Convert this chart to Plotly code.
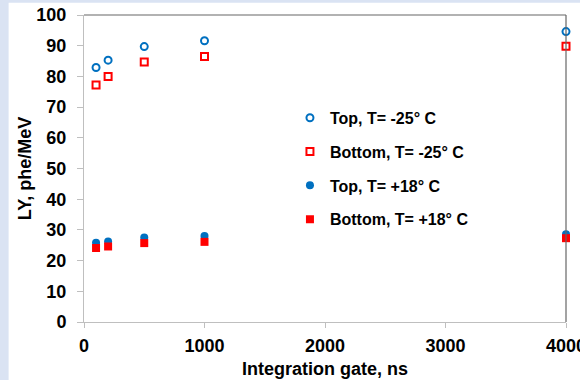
import plotly.graph_objects as go

gate_ns = [100, 200, 500, 1000, 4000]
top_m25 = [82.9, 85.3, 89.7, 91.6, 94.6]
bottom_m25 = [77.2, 80.0, 84.7, 86.5, 89.8]
top_p18 = [25.8, 26.2, 27.5, 28.0, 28.6]
bottom_p18 = [24.1, 24.6, 25.7, 26.1, 27.3]

names = ["Top, T= -25° C", "Bottom, T= -25° C", "Top, T= +18° C", "Bottom, T= +18° C"]
series = [top_m25, bottom_m25, top_p18, bottom_p18]

BLUE = "#0070C0"
RED = "#FF0000"
styles = [
    dict(symbol="circle-open", size=7, color=BLUE, line=dict(width=2, color=BLUE)),
    dict(symbol="square-open", size=7, color=RED, line=dict(width=2, color=RED)),
    dict(symbol="circle", size=8, color=BLUE),
    dict(symbol="square", size=8, color=RED),
]

W, H = 580, 380
L, R, T, B = 84.3, 14.3, 15.3, 58.3
pw, ph = W - L - R, H - T - B

fig = go.Figure()
for i, (nm, ys, st) in enumerate(zip(names, series, styles)):
    fig.add_trace(go.Scatter(x=gate_ns, y=ys, mode="markers", name=nm,
                             marker=st, cliponaxis=False, legendgroup=f"g{i}"))

font = "Liberation Sans, Arial, sans-serif"

def px_x(p):
    return (p - L) / pw

def px_y(p):
    return (H - B - p) / ph

shapes = [
    # white page area over the light blue frame
    dict(type="rect", xref="paper", yref="paper", x0=px_x(9), x1=px_x(600),
         y0=px_y(400), y1=px_y(3), fillcolor="white", line=dict(width=0), layer="below"),
    # dark top and right borders of the plot area
    dict(type="line", xref="paper", yref="paper", x0=0, x1=1, y0=1, y1=1,
         line=dict(color="#666666", width=1.2)),
    dict(type="line", xref="paper", yref="paper", x0=1, x1=1, y0=0, y1=1,
         line=dict(color="#666666", width=1.2)),
]

fig.update_layout(
    width=W, height=H,
    margin=dict(l=L, r=R, t=T, b=B, autoexpand=False),
    paper_bgcolor="#DAE3F3",
    plot_bgcolor="white",
    font=dict(family=font, color="black"),
    shapes=shapes,
    showlegend=True,
    legend=dict(x=px_x(290), y=px_y(101), xanchor="left", yanchor="top",
                bgcolor="rgba(0,0,0,0)", tracegroupgap=10,
                font=dict(family=font, size=16, weight="bold", color="black")),
    xaxis=dict(range=[0, 4000], tickvals=[0, 1000, 2000, 3000, 4000],
               showgrid=False, zeroline=False, showline=True, linecolor="#BFBFBF",
               linewidth=1, ticks="outside", ticklen=5, tickcolor="#BFBFBF",
               ticklabelstandoff=2, ticklabeloverflow="allow",
               tickfont=dict(size=18, weight="bold", color="black"),
               title=dict(text="Integration gate, ns", standoff=7,
                          font=dict(size=18, weight="bold", color="black")),
               automargin=False),
    yaxis=dict(range=[0, 100], dtick=10, tick0=0,
               showgrid=False, zeroline=False, showline=True, linecolor="#BFBFBF",
               linewidth=1, ticks="outside", ticklen=6, tickcolor="#BFBFBF",
               ticklabelstandoff=7,
               tickfont=dict(size=18, weight="bold", color="black"),
               title=dict(text="LY, phe/MeV", standoff=0,
                          font=dict(size=18, weight="bold", color="black")),
               automargin=False),
)

fig.write_html("out.html")
